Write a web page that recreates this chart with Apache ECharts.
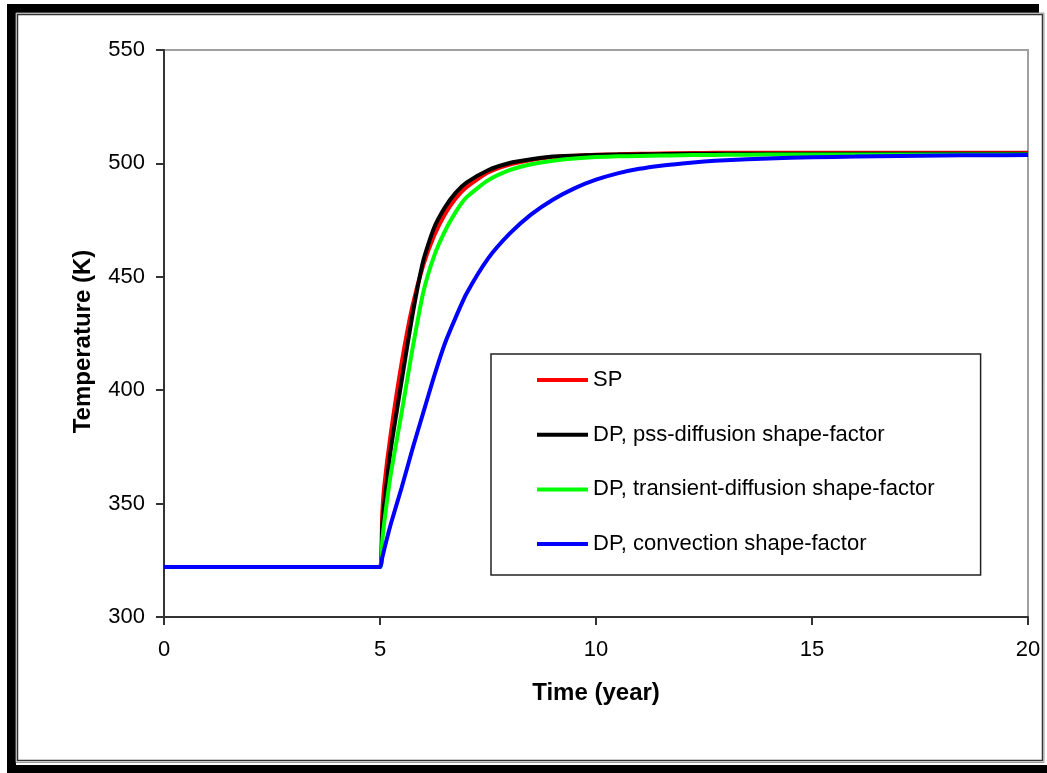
<!DOCTYPE html>
<html>
<head>
<meta charset="utf-8">
<script src="https://cdn.jsdelivr.net/npm/echarts@6/dist/echarts.min.js"></script>
<style>
html,body{margin:0;padding:0;background:#fff;}
#chart{width:1047px;height:773px;}
</style>
</head>
<body>
<div id="chart"></div>
<script>
// Time (year)
const timeYears = [0, 1, 2, 3, 4, 5, 5.05, 5.1, 5.25, 5.5, 5.75, 6, 6.25, 6.5, 6.75, 7, 7.5, 8, 8.5, 9, 9.5, 10, 10.5, 11, 11.5, 12, 12.5, 13, 14, 15, 16, 17, 18, 19, 20];
// Temperature (K)
const spTemp = [322, 322, 322, 322, 322, 322, 345, 358, 381, 412, 437, 455, 468, 477.5, 484.5, 489.5, 496, 499.5, 501.5, 502.8, 503.4, 503.8, 504.0, 504.2, 504.35, 504.5, 504.6, 504.7, 504.7, 504.7, 504.7, 504.7, 504.7, 504.7, 504.7];
const pssTemp = [322, 322, 322, 322, 322, 322, 340, 350, 374, 404, 433, 457, 471.5, 480.5, 487, 491.5, 497, 500.2, 501.8, 503, 503.4, 503.7, 503.9, 504, 504.1, 504.2, 504.2, 504.2, 504.2, 504.2, 504.2, 504.2, 504.2, 504.2, 504.2];
const transientTemp = [322, 322, 322, 322, 322, 322, 333, 342, 363, 390, 418, 443, 459, 470, 478.5, 485, 492.5, 497, 499.6, 501.2, 502.2, 502.8, 503.1, 503.3, 503.45, 503.6, 503.7, 503.8, 503.9, 503.9, 503.9, 503.9, 503.9, 503.9, 503.9];
const convectionTemp = [322, 322, 322, 322, 322, 322, 326, 330, 341, 357, 374, 390, 406, 420.5, 432, 442.5, 458, 469, 477.5, 484, 489, 492.8, 495.6, 497.6, 499, 500, 500.8, 501.4, 502.2, 502.7, 503, 503.3, 503.5, 503.6, 503.7];

const seriesNames = ['SP', 'DP, pss-diffusion shape-factor', 'DP, transient-diffusion shape-factor', 'DP, convection shape-factor'];
const seriesValues = [spTemp, pssTemp, transientTemp, convectionTemp];
const seriesColors = ['#ff0000', '#000000', '#00ff00', '#0000ff'];

const xTicks = { min: 0, max: 20, interval: 5 };
const yTicks = { min: 300, max: 550, interval: 50 };

const FONT = "'Liberation Sans', Arial, sans-serif";

const chart = echarts.init(document.getElementById('chart'), null, { renderer: 'canvas' });

const series = seriesNames.map((name, i) => ({
  name: name,
  type: 'line',
  data: timeYears.map((t, j) => [t, seriesValues[i][j]]),
  showSymbol: false,
  symbol: 'none',
  smooth: 0.2,
  lineStyle: { color: seriesColors[i], width: 4 },
  itemStyle: { color: seriesColors[i] },
  z: 2 + i
}));

chart.setOption({
  animation: false,
  backgroundColor: '#fff',
  textStyle: { fontFamily: FONT },
  grid: {
    left: 164, top: 50, right: 19, bottom: 156,
    show: true, borderColor: '#a0a0a0', borderWidth: 2, backgroundColor: 'transparent'
  },
  xAxis: {
    type: 'value',
    min: xTicks.min, max: xTicks.max, interval: xTicks.interval,
    name: 'Time (year)',
    nameLocation: 'middle',
    nameGap: 64,
    nameTextStyle: { fontFamily: FONT, fontSize: 24, fontWeight: 'bold', color: '#000' },
    axisLine: { show: true, onZero: false, lineStyle: { color: '#333', width: 2 } },
    axisTick: { show: true, inside: false, length: 8, lineStyle: { color: '#333', width: 2 } },
    axisLabel: { fontFamily: FONT, fontSize: 22, color: '#000', margin: 22 },
    splitLine: { show: false }
  },
  yAxis: {
    type: 'value',
    min: yTicks.min, max: yTicks.max, interval: yTicks.interval,
    name: 'Temperature (K)',
    nameLocation: 'middle',
    nameGap: 69,
    nameTextStyle: { fontFamily: FONT, fontSize: 24, fontWeight: 'bold', color: '#000', padding: [0, 16, 0, 0] },
    axisLine: { show: true, onZero: false, lineStyle: { color: '#333', width: 2 } },
    axisTick: { show: true, inside: false, length: 8, lineStyle: { color: '#333', width: 2 } },
    axisLabel: { fontFamily: FONT, fontSize: 22, color: '#000', margin: 19 },
    splitLine: { show: false }
  },
  legend: {
    show: true,
    orient: 'vertical',
    left: 491,
    top: 354,
    padding: [14, 46, 19, 46],
    itemGap: 30.7,
    itemWidth: 51,
    itemHeight: 4,
    icon: 'rect',
    borderColor: '#222',
    borderWidth: 1.5,
    backgroundColor: '#fff',
    textStyle: { fontFamily: FONT, fontSize: 22, color: '#000', lineHeight: 24 },
    data: seriesNames
  },
  graphic: [
    { type: 'rect', silent: true, shape: { x: 7, y: 4, width: 1032, height: 9 }, style: { fill: '#000' } },
    { type: 'rect', silent: true, shape: { x: 7, y: 4, width: 9, height: 769 }, style: { fill: '#000' } },
    { type: 'rect', silent: true, shape: { x: 7, y: 765, width: 1040, height: 8 }, style: { fill: '#000' } },
    { type: 'rect', silent: true, shape: { x: 17.5, y: 14.5, width: 1025, height: 746 }, style: { fill: 'none', stroke: '#333', lineWidth: 1.5 } },
    { type: 'rect', silent: true, shape: { x: 16, y: 13, width: 1028, height: 749.5 }, style: { fill: 'none', stroke: '#999', lineWidth: 1 } }
  ],
  series: series
});
</script>
</body>
</html>
